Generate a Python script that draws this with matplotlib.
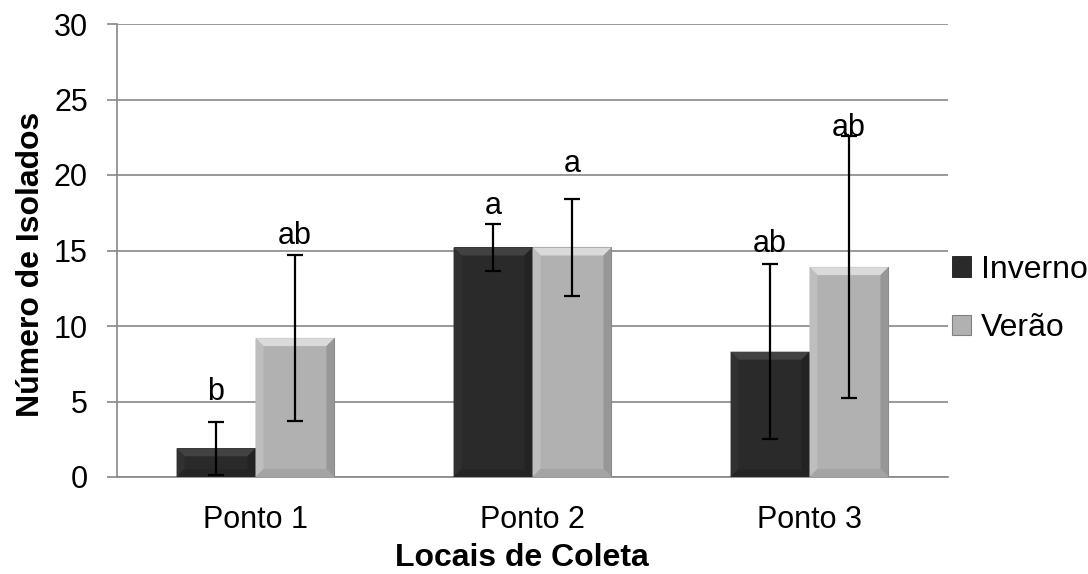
import numpy as np
import matplotlib

matplotlib.use("Agg")
import matplotlib.pyplot as plt
from matplotlib.patches import Polygon

plt.rcParams["font.family"] = ["Liberation Sans", "DejaVu Sans"]

categories = ["Ponto 1", "Ponto 2", "Ponto 3"]
series_names = ["Inverno", "Verão"]
inverno = [1.9, 15.2, 8.3]
verao = [9.2, 15.2, 13.9]
inverno_err = [1.75, 1.55, 5.8]
verao_err = [5.5, 3.2, 8.65]
inverno_letters = ["b", "a", "ab"]
verao_letters = ["ab", "a", "ab"]
inverno_letter_y = [5.1, 17.4, 14.9]
verao_letter_y = [15.4, 20.2, 22.6]

W, H = 1088, 574
fig = plt.figure(figsize=(W / 100, H / 100), dpi=100)
ax = fig.add_axes([117 / W, 1 - 477 / H, (948 - 117) / W, (477 - 24) / H])

x = np.arange(len(categories))
width = 0.285
dark = "#2a2a2a"
light = "#b1b1b1"

b1 = ax.bar(x - width / 2, inverno, width, color=dark, edgecolor="#1a1a1a",
            linewidth=0.6, label=series_names[0], zorder=3)
b2 = ax.bar(x + width / 2, verao, width, color=light, edgecolor="#808080",
            linewidth=0.8, label=series_names[1], zorder=3)

ax.set_xlim(-0.5, 2.5)
ax.set_ylim(0, 30)

# bevel effect, sized in pixels and converted to data units
px_x = 3.0 / (948 - 117)
px_y = 30.0 / (477 - 24)
bev = 8


def bevel(bars, top_c, left_c, right_c, bot_c):
    for r in bars:
        x0, y0 = r.get_x(), r.get_y()
        x1, y1 = x0 + r.get_width(), y0 + r.get_height()
        bx, by = bev * px_x, bev * px_y
        by = min(by, (y1 - y0) / 2)
        faces = [
            ([(x0, y1), (x1, y1), (x1 - bx, y1 - by), (x0 + bx, y1 - by)], top_c),
            ([(x0, y0), (x0, y1), (x0 + bx, y1 - by), (x0 + bx, y0 + by)], left_c),
            ([(x1, y0), (x1, y1), (x1 - bx, y1 - by), (x1 - bx, y0 + by)], right_c),
            ([(x0, y0), (x1, y0), (x1 - bx, y0 + by), (x0 + bx, y0 + by)], bot_c),
        ]
        for pts, c in faces:
            ax.add_patch(Polygon(pts, closed=True, facecolor=c, edgecolor="none", zorder=3.5))


bevel(b1, "#424242", "#313131", "#232323", "#252525")
bevel(b2, "#dadada", "#bebebe", "#979797", "#a4a4a4")

ax.errorbar(x - width / 2, inverno, yerr=inverno_err, fmt="none", ecolor="black",
            elinewidth=1.6, capsize=5.5, capthick=1.6, zorder=5)
ax.errorbar(x + width / 2, verao, yerr=verao_err, fmt="none", ecolor="black",
            elinewidth=1.6, capsize=5.5, capthick=1.6, zorder=5)

for i in range(len(categories)):
    ax.text(x[i] - width / 2, inverno_letter_y[i], inverno_letters[i], ha="center",
            va="baseline", fontsize=22, zorder=6)
    ax.text(x[i] + width / 2, verao_letter_y[i], verao_letters[i], ha="center",
            va="baseline", fontsize=22, zorder=6)

ax.set_yticks(np.arange(0, 31, 5))
ax.yaxis.grid(True, color="#888888", linewidth=1.2, zorder=0)
ax.set_axisbelow(True)
for s in ["top", "right"]:
    ax.spines[s].set_visible(False)
ax.spines["left"].set_color("#888888")
ax.spines["left"].set_linewidth(1.2)
ax.spines["bottom"].set_color("#888888")
ax.spines["bottom"].set_linewidth(1.2)

ax.set_xticks(x)
ax.set_xticklabels(categories)
ax.tick_params(axis="x", length=0, pad=20, labelsize=22)
ax.tick_params(axis="y", length=7, width=1.2, color="#888888", pad=14, labelsize=22)

ax.set_xlabel("Locais de Coleta", fontsize=23, fontweight="bold")
ax.xaxis.set_label_coords(0.487, -0.146)
ax.set_ylabel("Número de Isolados", fontsize=23, fontweight="bold")
ax.yaxis.set_label_coords(-0.086, 0.47)

fig.legend(handles=[b1, b2], labels=series_names, loc="center left",
           bbox_to_anchor=(952 / W, 1 - 299 / H), frameon=False, fontsize=23,
           handlelength=0.6, handleheight=0.6, handletextpad=0.3,
           labelspacing=0.9, borderpad=0, borderaxespad=0)

fig.savefig("out.png", dpi=100)
